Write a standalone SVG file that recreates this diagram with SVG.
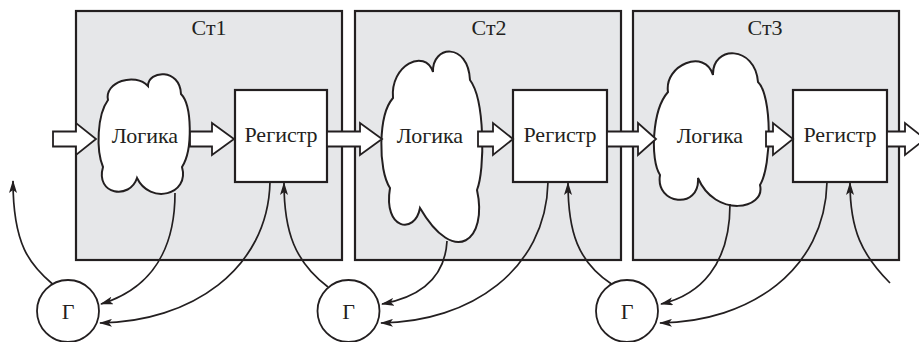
<svg xmlns="http://www.w3.org/2000/svg" width="919" height="342" viewBox="0 0 919 342">
<style>
.stage{fill:#e6e7e9;stroke:#231f20;stroke-width:2.2}
.reg{fill:#fff;stroke:#231f20;stroke-width:2.2}
.cloud{fill:#fff;stroke:#231f20;stroke-width:2}
.gen{fill:#fff;stroke:#231f20;stroke-width:1.8}
.blk{fill:#fff;stroke:#231f20;stroke-width:1.8;stroke-linejoin:miter}
.clk{fill:none;stroke:#231f20;stroke-width:1.7}
</style>
<defs>
<marker id="ah" markerWidth="13" markerHeight="8" refX="12" refY="4" orient="auto" markerUnits="userSpaceOnUse">
<path d="M0,0 L13,4 L0,8 L3,4 z" fill="#231f20"/>
</marker>
</defs>
<g font-family="Liberation Serif, Times New Roman, serif" font-size="22" fill="#231f20" text-anchor="middle">
<g id="stage1"><rect class="stage" x="76" y="11" width="266" height="249"/><text x="209" y="35">Ст1</text></g>
<g id="stage2"><rect class="stage" x="355" y="11" width="266" height="249"/><text x="489" y="35">Ст2</text></g>
<g id="stage3"><rect class="stage" x="633" y="11" width="266" height="249"/><text x="765" y="35">Ст3</text></g>
<g id="logic1"><path class="cloud" d="M108,100 C104,82 135,72 148,86 C148,70 180,68 181,94 C192,105 193,150 182,167 C190,195 150,205 137,178 C130,200 95,195 103,167 C96,150 97,115 108,100 Z"/><text x="145" y="143">Логика</text></g>
<g id="logic2"><path class="cloud" d="M393,98 C390,65 425,48 433,72 C432,45 468,42 470,80 C485,100 485,170 477,190 C488,240 455,268 420,208 C415,235 383,230 390,188 C378,170 378,115 393,98 Z"/><text x="430" y="143">Логика</text></g>
<g id="logic3"><path class="cloud" d="M668,92 C664,65 705,48 713,75 C712,45 755,45 758,82 C772,95 772,165 760,185 C766,210 715,218 698,178 C700,210 655,205 660,175 C650,160 652,110 668,92 Z"/><text x="710" y="143">Логика</text></g>
<g id="reg1"><rect class="reg" x="235" y="90" width="92" height="92"/><text x="281" y="142">Регистр</text></g>
<g id="reg2"><rect class="reg" x="513" y="90" width="94" height="92"/><text x="560" y="142">Регистр</text></g>
<g id="reg3"><rect class="reg" x="793" y="90" width="94" height="92"/><text x="840" y="142">Регистр</text></g>
<g id="gen1"><circle class="gen" cx="68" cy="311" r="31"/><text x="68" y="319">Г</text></g>
<g id="gen2"><circle class="gen" cx="348.5" cy="311" r="31"/><text x="348.5" y="319">Г</text></g>
<g id="gen3"><circle class="gen" cx="627" cy="311" r="31"/><text x="627" y="319">Г</text></g>
</g>
<g id="connectors">
<polygon class="blk" points="53,131.5 76,131.5 76,123 96,139 76,155 76,146.5 53,146.5"/>
<polygon class="blk" points="190,131.5 212,131.5 212,123 234,139 212,155 212,146.5 190,146.5"/>
<polygon class="blk" points="327,131.5 360,131.5 360,123 382,139 360,155 360,146.5 327,146.5"/>
<polygon class="blk" points="478,131.5 493,131.5 493,123 513,139 493,155 493,146.5 478,146.5"/>
<polygon class="blk" points="607,131.5 638,131.5 638,123 656,139 638,155 638,146.5 607,146.5"/>
<polygon class="blk" points="766,131.5 773,131.5 773,123 793,139 773,155 773,146.5 766,146.5"/>
<polygon class="blk" points="887,131.5 905,131.5 905,123 925,139 905,155 905,146.5 887,146.5"/>
<path class="clk" marker-end="url(#ah)" d="M52.5,284 C30,265 13,245 13,181"/>
<path class="clk" marker-end="url(#ah)" d="M175,193 C175,262 140,292 101,304"/>
<path class="clk" marker-end="url(#ah)" d="M270,182 C268,270 190,322 100,323"/>
<path class="clk" marker-end="url(#ah)" d="M328,287 C295,262 284,232 284,183"/>
<path class="clk" marker-end="url(#ah)" d="M447,241 C445,278 420,297 382,304"/>
<path class="clk" marker-end="url(#ah)" d="M548,182 C546,270 470,322 381,323"/>
<path class="clk" marker-end="url(#ah)" d="M611.5,284 C578,262 568,232 568,183"/>
<path class="clk" marker-end="url(#ah)" d="M730,204 C730,265 700,295 661,304"/>
<path class="clk" marker-end="url(#ah)" d="M827,182 C825,270 750,322 660,323"/>
<path class="clk" marker-end="url(#ah)" d="M890,283 C862,255 850,230 850,183"/>
</g>
</svg>
